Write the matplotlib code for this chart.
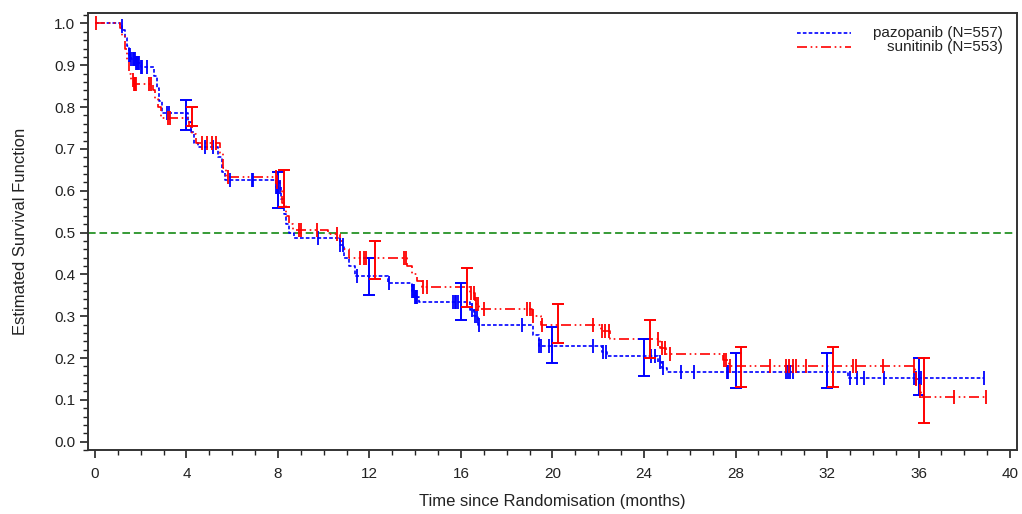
import numpy as np
import matplotlib
matplotlib.use("Agg")
import matplotlib.pyplot as plt
from matplotlib.ticker import MultipleLocator

plt.rcParams['font.family'] = ['Liberation Sans', 'DejaVu Sans']

# pazopanib: KM steps (time in months, survival after the drop)
paz_t = [0, 1.1, 1.2, 1.3, 1.4, 1.5, 1.6, 1.8, 2.0, 2.6, 2.7, 2.8, 2.95,
         4.05, 4.2, 4.35, 4.5, 5.4, 5.55, 5.7, 7.9, 8.15, 8.25, 8.35, 8.5, 8.7,
         10.7, 10.9, 11.1, 11.35, 12.8, 13.85, 14.0, 14.15, 16.4, 16.55, 16.75,
         19.15, 19.4, 22.15, 22.4, 24.6, 24.8, 25.0, 32.9]
paz_s = [1.0, 0.995, 0.985, 0.965, 0.945, 0.925, 0.915, 0.905, 0.895, 0.875, 0.845, 0.815, 0.786,
         0.765, 0.74, 0.715, 0.705, 0.68, 0.645, 0.625, 0.61, 0.58, 0.545, 0.52, 0.50, 0.487,
         0.47, 0.44, 0.42, 0.396, 0.379, 0.36, 0.345, 0.334, 0.315, 0.30, 0.28,
         0.255, 0.229, 0.215, 0.205, 0.19, 0.175, 0.167, 0.153]
paz_end = 38.85
paz_cens = [1.17, 1.5, 1.55, 1.6, 1.65, 1.7, 1.75, 1.8, 1.85, 1.9, 1.95, 2.0, 2.05, 2.3,
            3.15, 3.25, 4.8, 5.17, 5.9, 6.85, 6.92, 7.92, 7.97, 8.1, 9.75, 10.72, 10.85, 11.45,
            12.85, 13.85, 13.9, 13.95, 14.0, 14.05, 14.1, 15.65, 15.72, 15.78, 15.85,
            16.5, 16.6, 16.7, 16.8, 18.65, 19.4, 19.5, 19.85, 20.0, 21.75, 22.2, 22.35,
            24.3, 24.5, 24.7, 24.85, 25.6, 26.2, 27.62, 27.68, 30.2, 30.3, 30.4, 30.5,
            33.0, 33.3, 33.6, 34.5, 35.8, 35.9, 36.0, 36.1, 38.85]
paz_ci_t = [4, 8, 12, 16, 20, 24, 28, 32, 36]
paz_ci_lo = [0.745, 0.558, 0.35, 0.29, 0.188, 0.157, 0.128, 0.128, 0.112]
paz_ci_hi = [0.817, 0.645, 0.44, 0.38, 0.274, 0.245, 0.212, 0.212, 0.20]

# sunitinib
sun_t = [0, 1.1, 1.2, 1.3, 1.4, 1.5, 1.6, 1.7, 2.55, 2.65, 2.75, 2.9,
         4.1, 4.25, 4.4, 5.45, 5.6, 5.75, 7.95, 8.1, 8.2, 8.35, 8.5, 8.65,
         10.2, 10.7, 10.85, 11.1, 13.65, 13.85, 14.1, 14.3, 16.4, 16.6, 16.8,
         19.1, 19.5, 22.1, 22.5, 24.7, 24.95, 27.45, 27.7, 35.85, 36.0, 36.1]
sun_s = [1.0, 0.99, 0.97, 0.94, 0.91, 0.88, 0.865, 0.855, 0.84, 0.82, 0.80, 0.775,
         0.755, 0.735, 0.715, 0.69, 0.655, 0.633, 0.62, 0.60, 0.57, 0.54, 0.52, 0.506,
         0.496, 0.48, 0.46, 0.44, 0.42, 0.40, 0.385, 0.37, 0.355, 0.33, 0.317,
         0.30, 0.28, 0.265, 0.245, 0.225, 0.21, 0.195, 0.18, 0.15, 0.12, 0.107]
sun_end = 38.95
sun_cens = [0.07, 1.65, 1.7, 1.75, 1.8, 2.35, 2.45, 3.2, 3.3, 4.7, 4.9, 5.1, 5.3, 5.8,
            7.92, 7.98, 8.9, 9.0, 9.7, 10.6, 11.6, 11.75, 11.85, 13.5, 13.6, 14.35, 14.5,
            16.45, 16.55, 16.65, 16.75, 17.0, 18.9, 19.0, 19.15, 19.55, 21.75, 22.15, 22.3,
            22.45, 24.6, 24.8, 24.9, 25.15, 27.5, 27.6, 27.75, 29.5, 30.2, 30.35, 30.5, 30.65,
            31.07, 33.15, 33.25, 34.45, 35.8, 35.9, 36.05, 37.55, 38.95]
sun_ci_t = [4.25, 8.25, 12.25, 16.25, 20.25, 24.25, 28.25, 32.25, 36.25]
sun_ci_lo = [0.755, 0.56, 0.39, 0.322, 0.236, 0.20, 0.131, 0.131, 0.045]
sun_ci_hi = [0.80, 0.65, 0.48, 0.415, 0.33, 0.29, 0.226, 0.226, 0.20]

x_ticks = list(range(0, 41, 4))
y_ticks = [0.0, 0.1, 0.2, 0.3, 0.4, 0.5, 0.6, 0.7, 0.8, 0.9, 1.0]


def surv_at(times, surv, c):
    idx = np.searchsorted(times, c, side='right') - 1
    return np.asarray(surv)[idx]


def draw_arm(ax, t, s, end, cens, ci_t, ci_lo, ci_hi, color, dashes):
    tt = list(t) + [end]
    ss = list(s) + [s[-1]]
    ax.step(tt, ss, where='post', color=color, lw=1.2, dashes=dashes, zorder=3)
    ax.plot(cens, surv_at(t, s, cens), ls='none', marker='|', ms=9.5, mew=1.3,
            color=color, zorder=4)
    lo = np.array(ci_lo)
    hi = np.array(ci_hi)
    ax.errorbar(ci_t, (lo + hi) / 2, yerr=(hi - lo) / 2, fmt='none', ecolor=color,
                elinewidth=1.4, capsize=4, capthick=1.4, zorder=4)


fig = plt.figure(figsize=(10.22, 5.14), dpi=100)
ax = fig.add_axes([0.0861, 0.1245, 0.9090, 0.8502])

ax.axhline(0.5, color='#008000', lw=1.1, dashes=(5, 2.5), zorder=2)
draw_arm(ax, paz_t, paz_s, paz_end, paz_cens, paz_ci_t, paz_ci_lo, paz_ci_hi,
         '#0000ff', (2.2, 1.3))
draw_arm(ax, sun_t, sun_s, sun_end, sun_cens, sun_ci_t, sun_ci_lo, sun_ci_hi,
         '#ff0000', (6, 2.2, 1, 2, 1, 2.2))

ax.set_xlim(-0.3, 40.3)
ax.set_ylim(-0.02, 1.025)
ax.set_xticks(x_ticks)
ax.set_yticks(y_ticks)
ax.set_yticklabels([f"{v:.1f}" for v in y_ticks])
ax.xaxis.set_minor_locator(MultipleLocator(1))
ax.yaxis.set_minor_locator(MultipleLocator(0.02))
ax.tick_params(axis='both', which='major', length=6, width=1.2, labelsize=11,
               colors='#222222')
ax.tick_params(axis='both', which='minor', length=3.5, width=1.0, colors='#222222')
ax.tick_params(axis='x', which='major', pad=6.5)
ax.tick_params(axis='y', which='major', pad=3)
for sp in ax.spines.values():
    sp.set_linewidth(1.4)
    sp.set_color('#333333')

ax.set_xlabel("Time since Randomisation (months)", fontsize=12, color='#222222',
              labelpad=9)
ax.set_ylabel("Estimated Survival Function", fontsize=12, color='#222222',
              labelpad=19)

# legend, text right aligned like the original
leg_rows = [("pazopanib (N=557)", '#0000ff', (2.2, 1.3), 0.954),
            ("sunitinib (N=553)", '#ff0000', (6, 2.2, 1, 2, 1, 2.2), 0.922)]
for label, color, dashes, yy in leg_rows:
    ax.plot([0.763, 0.821], [yy, yy], transform=ax.transAxes, color=color,
            lw=1.2, dashes=dashes)
    ax.text(0.985, yy, label, transform=ax.transAxes, ha='right', va='center',
            fontsize=11, color='#222222')

fig.savefig("out.png", dpi=100)
